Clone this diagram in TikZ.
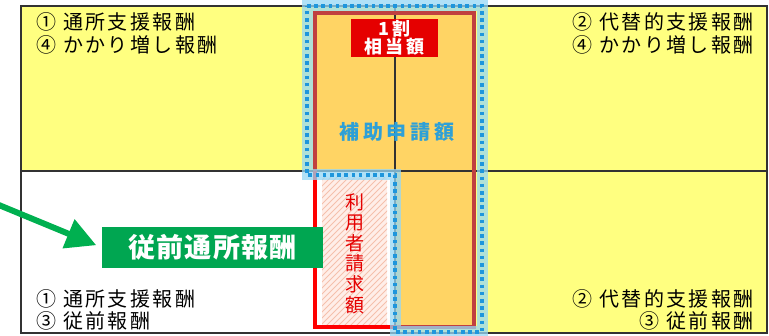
\documentclass[tikz,border=0pt]{standalone}
\usepackage{fontspec}
\setmainfont{Noto Sans CJK JP}
\newfontfamily\jp[LetterSpace=12]{Noto Sans CJK JP}
\newfontfamily\jpa[LetterSpace=18]{Noto Sans CJK JP}
\newfontfamily\jpg[LetterSpace=4]{Noto Sans CJK JP}
\newfontfamily\jpv{Noto Sans CJK JP}
\usetikzlibrary{arrows.meta,calc}
\definecolor{yel}{RGB}{255,255,128}
\definecolor{org}{RGB}{255,212,100}
\definecolor{brred}{RGB}{192,64,64}
\definecolor{bdot}{RGB}{30,150,220}
\definecolor{glowc}{RGB}{150,215,245}
\definecolor{hojoc}{RGB}{46,160,215}
\definecolor{gbg}{RGB}{0,166,81}
\definecolor{garr}{RGB}{0,176,80}
\definecolor{hbg}{RGB}{255,238,232}
\definecolor{hln}{RGB}{245,192,172}
\definecolor{frm}{RGB}{50,50,50}
\begin{document}
\begin{tikzpicture}[x=1pt,y=-1pt,
  lbl/.style={font=\jp\fontsize{20}{22}\selectfont, inner sep=0pt, text=black},
  frameline/.style={draw=frm, line width=1.4pt},
  glow/.style={draw=glowc, line width=11pt, opacity=0.75, line join=miter},
  bluedot/.style={draw=bdot, line width=3.6pt, dash pattern=on 3.6pt off 3.6pt},
  redbox/.style={fill=red!90!black, text=white, inner sep=0pt, minimum width=87pt, minimum height=38pt, align=center, font=\jpa\bfseries\fontsize{18}{17}\selectfont},
  greenbox/.style={fill=gbg, text=white, inner sep=0pt, minimum width=221pt, minimum height=41pt, font=\jpg\bfseries\fontsize{27}{29}\selectfont},
  garrow/.style={draw=garr, line width=6pt, -{Triangle[length=30pt,width=30pt]}},
  hatchln/.style={draw=hln, line width=1pt}
]
\useasboundingbox (0,0) rectangle (769,336);
% backgrounds
\fill[yel] (21,6) rectangle (767,171);
\fill[yel] (395,171) rectangle (767,333);
\fill[white] (21,171) rectangle (395,333);
\fill[org] (315,13) rectangle (474,171);
\fill[org] (395,171) rectangle (474,327);
% hatched area
\begin{scope}
\clip (322,178) rectangle (387,325);
\fill[hbg] (322,178) rectangle (387,325);
\foreach \i in {160,166,...,400} \draw[hatchln] (\i,330) -- ({\i+160},170);
\end{scope}
% lines
\draw[frameline] (21,171) -- (767,171);
\draw[draw=frm, line width=1.2pt] (395,6) -- (395,327);
\draw[frameline] (21,6) rectangle (767,333);
% red border
\draw[brred, line width=4pt, line join=miter] (315,171) -- (315,13) -- (474,13) -- (474,327) -- (395,327);
\draw[red, line width=4.5pt, line join=miter] (315,171) -- (315,327) -- (396,327);
% blue dotted outline with glow
\draw[glow] (307,6) -- (482,6) -- (482,332) -- (395,332) -- (395,175) -- (307,175) -- cycle;
\draw[bluedot] (307,6) -- (482,6) -- (482,332) -- (395,332) -- (395,175) -- (307,175) -- cycle;
% red box
\node[redbox] (wari) at (394.5,38) {1割\\相当額};
% blue label
\node[font=\jpa\bfseries\fontsize{20}{22}\selectfont, text=hojoc, inner sep=0pt] (hojo) at (397,132) {補助申請額};
% vertical text
\node[font=\jpv\fontsize{19}{20.6}\selectfont, text=red!90!black, align=center, inner sep=0pt] (riyo) at (355,253.5) {利\\用\\者\\請\\求\\額};
% green box and arrow
\node[greenbox] (gbox) at (212.5,247.5) {従前通所報酬};
\coordinate (arrS) at (-6,203);
\draw[garrow, shorten >=6pt] (arrS) -- (gbox.west);
% corner texts
\node[lbl, anchor=west] (tl1) at (36,22) {① 通所支援報酬};
\node[lbl, anchor=west] (tl2) at (36,45) {④ かかり増し報酬};
\node[lbl, anchor=east] (tr1) at (754,22) {② 代替的支援報酬};
\node[lbl, anchor=east] (tr2) at (754,45) {④ かかり増し報酬};
\node[lbl, anchor=west] (bl1) at (36,299) {① 通所支援報酬};
\node[lbl, anchor=west] (bl2) at (36,321) {③ 従前報酬};
\node[lbl, anchor=east] (br1) at (754,299) {② 代替的支援報酬};
\node[lbl, anchor=east] (br2) at (754,321) {③ 従前報酬};
\end{tikzpicture}
\end{document}
